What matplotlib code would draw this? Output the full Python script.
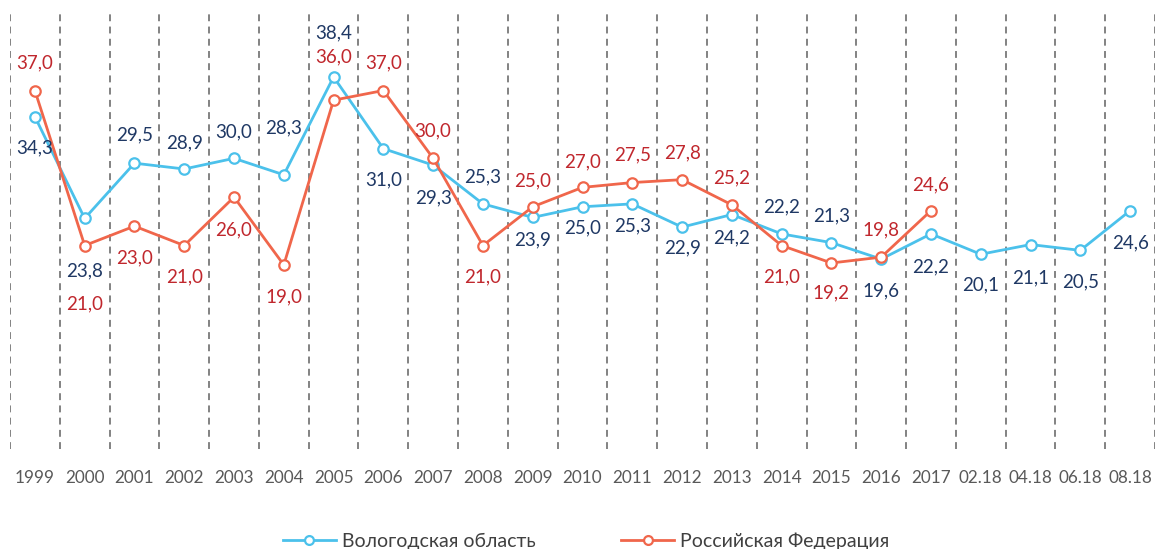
import numpy as np
import matplotlib
matplotlib.use("Agg")
import matplotlib.pyplot as plt

plt.rcParams['font.family'] = ['Lato', 'DejaVu Sans']

categories = ["1999", "2000", "2001", "2002", "2003", "2004", "2005", "2006",
              "2007", "2008", "2009", "2010", "2011", "2012", "2013", "2014",
              "2015", "2016", "2017", "02.18", "04.18", "06.18", "08.18"]
vologda = [34.3, 23.8, 29.5, 28.9, 30.0, 28.3, 38.4, 31.0, 29.3, 25.3, 23.9,
           25.0, 25.3, 22.9, 24.2, 22.2, 21.3, 19.6, 22.2, 20.1, 21.1, 20.5, 24.6]
russia = [37.0, 21.0, 23.0, 21.0, 26.0, 19.0, 36.0, 37.0, 30.0, 21.0, 25.0,
          27.0, 27.5, 27.8, 25.2, 21.0, 19.2, 19.8, 24.6]
series_names = ["Вологодская область", "Российская Федерация"]

# label offsets (pixels, + = above)
vol_off = [-31, -52, 28, 26, 26, 47, 44, -31, -33, 27, -22, -21, -22, -21, -23,
           27, 27, -32, -33, -31, -33, -31, -32]
rus_off = [28, -58, -32, -31, -33, -32, 43, 28, 27, -31, 26, 26, 28, 27, 27,
           -31, -30, 27, 26]

BLUE = "#4BC1EB"
ORANGE = "#F0664B"
NAVY = "#1F3864"
RED = "#C0272D"

fig = plt.figure(figsize=(11.56, 5.49), dpi=100)
ax = fig.add_axes([10 / 1156, 100 / 549, 1145 / 1156, 436 / 549])

x_v = np.arange(len(vologda))
x_r = np.arange(len(russia))

for b in np.arange(-0.5, len(categories), 1.0):
    ax.axvline(b, color="#606060", lw=1.1, ls=(0, (4.5, 3.5)), zorder=0)

ax.plot(x_v, vologda, color=BLUE, lw=2.0, marker="o", ms=7.5, mfc="white",
        mec=BLUE, mew=1.6, zorder=3, label=series_names[0])
ax.plot(x_r, russia, color=ORANGE, lw=2.0, marker="o", ms=7.5, mfc="white",
        mec=ORANGE, mew=1.6, zorder=4, label=series_names[1])

def fmt(v):
    return f"{v:.1f}".replace(".", ",")

for xi, v, o in zip(x_v, vologda, vol_off):
    ax.annotate(fmt(v), (xi, v), xytext=(0, o), textcoords="offset pixels",
                ha="center", va="center", fontsize=13.5, color=NAVY, zorder=5)
for xi, v, o in zip(x_r, russia, rus_off):
    ax.annotate(fmt(v), (xi, v), xytext=(0, o), textcoords="offset pixels",
                ha="center", va="center", fontsize=13.5, color=RED, zorder=5)

ax.set_xlim(-0.5, len(categories) - 0.5)
ax.set_ylim(0, 45)
ax.set_xticks(np.arange(len(categories)))
ax.set_xticklabels(categories, fontsize=12.3, color="#595959")
ax.tick_params(axis="x", length=0, pad=15)
ax.set_yticks([])
for s in ax.spines.values():
    s.set_visible(False)

fig.legend(loc="center", bbox_to_anchor=(586 / 1156, 1 - 541 / 549), ncol=2,
           frameon=False, fontsize=14, handlelength=2.73, handletextpad=0.3,
           columnspacing=4.4, labelcolor="#404040", markerscale=0.85)

fig.savefig("out.png", dpi=100)
